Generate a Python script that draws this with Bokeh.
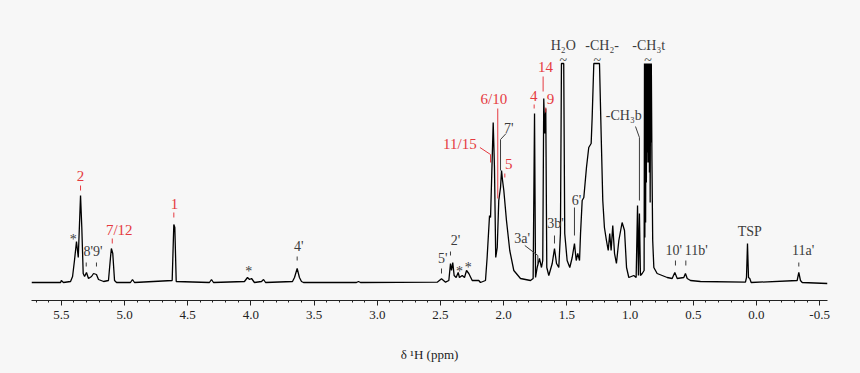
from bokeh.plotting import figure
from bokeh.models import Range1d, SingleIntervalTicker, PrintfTickFormatter
from bokeh.embed import file_html
from bokeh.resources import INLINE
from bokeh.core.properties import value

# ---- spectrum trace (chemical shift in ppm, intensity in a.u.) ----
ppm = [5.736, 5.506, 5.500, 5.483, 5.427, 5.411, 5.396, 5.380, 5.366, 5.348, 5.338, 5.327,
       5.316, 5.301, 5.285, 5.261, 5.245, 5.222, 5.206, 5.165, 5.127, 5.111, 5.104, 5.093,
       5.079, 5.063, 4.953, 4.937, 4.921, 4.623, 4.610, 4.602, 4.591, 4.328, 4.312, 4.296,
       4.051, 4.027, 4.011, 3.995, 3.972, 3.916, 3.900, 3.884, 3.671, 3.655, 3.634, 3.616,
       3.600, 3.584, 3.165, 3.149, 3.133, 2.526, 2.492, 2.460, 2.434, 2.421, 2.413, 2.403,
       2.392, 2.376, 2.360, 2.350, 2.328, 2.310, 2.294, 2.276, 2.249, 2.197, 2.184, 2.144,
       2.131, 2.112, 2.104, 2.083, 2.073, 2.063, 2.051, 2.039, 2.025, 2.017, 2.009, 1.999,
       1.978, 1.952, 1.920, 1.867, 1.788, 1.767, 1.756, 1.748, 1.735, 1.717, 1.701, 1.691,
       1.683, 1.675, 1.667, 1.659, 1.643, 1.616, 1.598, 1.582, 1.564, 1.551, 1.543, 1.525,
       1.517, 1.498, 1.477, 1.458, 1.440, 1.426, 1.414, 1.400, 1.392, 1.379, 1.366, 1.345,
       1.327, 1.308, 1.300, 1.287, 1.242, 1.229, 1.216, 1.203, 1.187, 1.173, 1.161, 1.150,
       1.137, 1.123, 1.108, 1.089, 1.063, 1.044, 1.028, 1.010, 0.971, 0.952, 0.941, 0.934,
       0.926, 0.918, 0.904, 0.889,
       0.886, 0.883, 0.880, 0.877, 0.874, 0.871, 0.868, 0.865, 0.862, 0.859, 0.856, 0.853,
       0.850, 0.847, 0.844, 0.841, 0.838, 0.835, 0.832,
       0.827, 0.821, 0.812, 0.786, 0.706, 0.667, 0.646, 0.627, 0.575, 0.562, 0.548,
       0.522, 0.443, 0.087, 0.079, 0.071, 0.063, 0.053, 0.042, -0.322, -0.335, -0.348,
       -0.362, -0.562]
intensity = [0, 0, 2, 0, 1, 6, 22, 41, 25, 87, 55, 9,
             6, 10, 4, 6, 9, 8, 3, 1, 2, 25, 34, 29,
             2, 0, 0, 3, 0, 2, 58, 55, 1, 0, 3, 0,
             1, 5, 3, 4, 0, 1, 3, 0, 1, 5, 14, 5,
             1, 0, 0, 1, 0, 0.3, 3.7, 0.3, 2, 19, 12, 20,
             7, 5, 10, 5, 7, 5, 12, 9, 2, 2, 0, 2,
             25, 67, 65, 160, 115, 25, 35, 82, 95, 112, 102, 92,
             62, 32, 12, 4, 2, 4, 169, 5, 15, 24, 15, 22,
             184, 149, 174, 15, 7, 19, 34, 19, 15, 49, 219, 219,
             49, 22, 15, 25, 39, 22, 29, 22, 49, 82, 85, 115,
             135, 139, 165, 219, 219, 149, 82, 55, 42, 32, 49, 32,
             57, 29, 19, 42, 60, 52, 15, 5, 7, 5, 77, 7,
             69, 7, 9, 12,
             219, 45, 219, 60, 219, 100, 219, 120, 219, 130, 219, 120,
             219, 110, 219, 80, 219, 140, 219,
             122, 42, 15, 9, 5, 4, 10, 4, 5, 9, 4,
             2, 1, 0.3, 5, 39, 5, 4, 0, 2, 10, 2,
             0, -1]

# ---- peak assignments (red) ----
red_text = ["2", "7/12", "1", "6/10", "11/15", "5", "4", "14", "9"]
red_ppm = [5.348, 5.042, 4.604, 2.078, 2.347, 1.960, 1.762, 1.669, 1.630]
red_int = [107, 53, 79, 184, 139, 119, 187, 216, 184]
red_lead_ppm = [[5.348, 5.348], [5.097, 5.097], [4.610, 4.610], [2.047, 2.047],
                [2.188, 2.104, 2.104], [1.991, 1.991], [1.759, 1.759], [1.688, 1.688],
                [1.667, 1.667]]
red_lead_int = [[97, 92], [44, 39], [70, 65], [174, 84], [135, 128, 120], [109, 105],
                [178, 174], [206, 191], [175, 170]]

# ---- other assignments (grey) ----
grey_text = ["*", "8'9'", "*", "4'", "5'", "2'", "*", "*", "7'", "3a'", "3b'", "6'",
             "H\u2082O", "-CH\u2082-", "-CH\u2083t", "-CH\u2083b", "10'", "11b'", "TSP", "11a'"]
grey_ppm = [5.406, 5.249, 4.017, 3.621, 2.482, 2.381, 2.350, 2.281, 1.960, 1.854, 1.590,
            1.424, 1.529, 1.221, 0.852, 1.050, 0.654, 0.477, 0.053, -0.369]
grey_int = [43, 31, 11, 36, 24, 42, 11, 15, 154, 44, 59, 82, 237, 237, 237, 167, 32, 32,
            51, 32]
grey_lead_ppm = [[5.303, 5.303], [5.222, 5.222], [3.634, 3.634], [2.492, 2.492],
                 [2.421, 2.421], [1.981, 2.025, 2.025], [1.833, 1.730, 1.730],
                 [1.598, 1.598], [1.440, 1.440], [0.957, 0.926, 0.926], [0.641, 0.641],
                 [0.559, 0.559], [-0.335, -0.335]]
grey_lead_int = [[20, 16], [20, 16], [26, 22], [14, 9], [31, 27], [149, 143, 112],
                 [37, 27, 19], [47, 39], [75, 47], [156, 145, 82], [22, 17], [22, 17],
                 [20, 16]]

# truncated peaks marks
break_ppm = [1.529, 1.260, 0.857]
break_int = [222, 222, 222]

RED = "#e53a40"
GREY = "#3c3c3c"
BG = "#f7f7f7"
SERIF = "'Liberation Serif', 'Times New Roman', serif"

p = figure(width=860, height=373, output_backend="svg", toolbar_location=None,
           x_range=Range1d(5.736, -0.562), y_range=Range1d(-18, 262),
           y_axis_location=None,
           min_border_left=31, min_border_right=33, min_border_top=20, min_border_bottom=73)
p.background_fill_color = BG
p.border_fill_color = BG
p.outline_line_color = None
p.grid.visible = False

ax = p.xaxis[0]
ax.ticker = SingleIntervalTicker(interval=0.5, num_minor_ticks=5)
ax.formatter = PrintfTickFormatter(format="%.1f")
ax.axis_line_color = "#222222"
ax.axis_line_width = 1
ax.major_tick_line_color = "#222222"
ax.minor_tick_line_color = "#222222"
ax.major_tick_in = 0
ax.major_tick_out = 5
ax.minor_tick_in = 0
ax.minor_tick_out = 2
ax.major_label_standoff = 5
ax.major_label_text_font = SERIF
ax.major_label_text_font_size = "13px"
ax.major_label_text_color = "#222222"
ax.axis_label = "\u03b4 \u00b9H (ppm)"
ax.axis_label_text_font = SERIF
ax.axis_label_text_font_style = "normal"
ax.axis_label_text_font_size = "13px"
ax.axis_label_text_color = "#222222"
ax.axis_label_standoff = 25

p.line(ppm, intensity, line_color="black", line_width=1.3)

p.multi_line(red_lead_ppm, red_lead_int, line_color=RED, line_width=1)
p.multi_line(grey_lead_ppm, grey_lead_int, line_color=GREY, line_width=1)

p.text(x=red_ppm, y=red_int, text=red_text, text_font=value(SERIF),
       text_font_size="15px", text_color=RED, text_align="center", text_baseline="middle")
p.text(x=grey_ppm, y=grey_int, text=grey_text, text_font=value(SERIF),
       text_font_size="14px", text_color=GREY, text_align="center", text_baseline="middle")
p.text(x=break_ppm, y=break_int, text=["~"] * len(break_ppm), text_font=value(SERIF),
       text_font_size="14px", text_color=GREY, text_align="center", text_baseline="middle")

html = file_html(p, INLINE)
html = html.replace("<head>", "<head><style>body{background:%s;}</style>" % BG, 1)
open("out.html", "w").write(html)
